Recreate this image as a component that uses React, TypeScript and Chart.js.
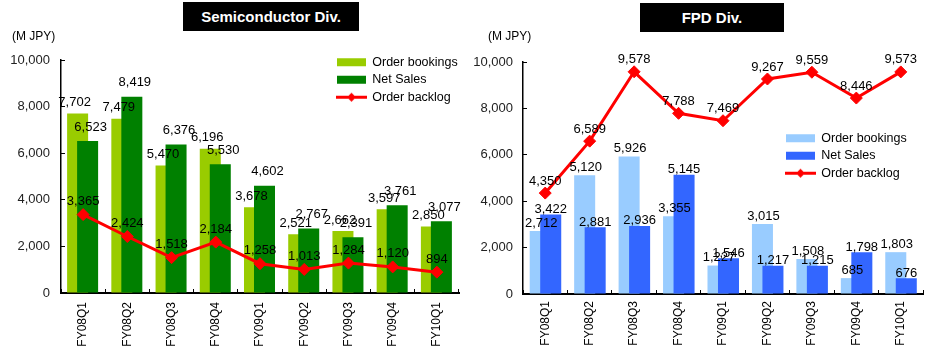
import React, { useEffect, useRef } from 'react';
import { Chart, registerables } from 'chart.js';

Chart.register(...registerables);

// ---------- data ----------
const quarters = ['FY08Q1', 'FY08Q2', 'FY08Q3', 'FY08Q4', 'FY09Q1', 'FY09Q2', 'FY09Q3', 'FY09Q4', 'FY10Q1'];

const semiOrderBookings = [7702, 7479, 5470, 6196, 3678, 2521, 2662, 3597, 2850];
const semiNetSales = [6523, 8419, 6376, 5530, 4602, 2767, 2391, 3761, 3077];
const semiOrderBacklog = [3365, 2424, 1518, 2184, 1258, 1013, 1284, 1120, 894];

const fpdOrderBookings = [2712, 5120, 5926, 3355, 1227, 3015, 1508, 685, 1803];
const fpdNetSales = [3422, 2881, 2936, 5145, 1546, 1217, 1215, 1798, 676];
const fpdOrderBacklog = [4350, 6589, 9578, 7788, 7469, 9267, 9559, 8446, 9573];

const seriesNames = ['Order bookings', 'Net Sales', 'Order backlog'];
const yMin = 0;
const yMax = 10000;
const yStep = 2000;

// ---------- style ----------
const FONT = '"Liberation Sans", Arial, sans-serif';
const RED = '#FF0000';

const fmt = (v: number) => v.toLocaleString('en-US');

function makeLineMarker(): HTMLCanvasElement {
  const c = document.createElement('canvas');
  c.width = 31;
  c.height = 11;
  const g = c.getContext('2d')!;
  g.strokeStyle = RED;
  g.lineWidth = 3;
  g.beginPath();
  g.moveTo(0, 5.5);
  g.lineTo(31, 5.5);
  g.stroke();
  g.fillStyle = RED;
  g.beginPath();
  g.moveTo(15.5, 1);
  g.lineTo(20, 5.5);
  g.lineTo(15.5, 10);
  g.lineTo(11, 5.5);
  g.closePath();
  g.fill();
  return c;
}

const valueLabels = {
  id: 'valueLabels',
  afterDatasetsDraw(chart: any) {
    const ctx = chart.ctx;
    chart.data.datasets.forEach((ds: any, i: number) => {
      const off = ds.labelOffset;
      if (!off) return;
      const meta = chart.getDatasetMeta(i);
      meta.data.forEach((el: any, j: number) => {
        const v = ds.data[j];
        if (v == null) return;
        ctx.save();
        ctx.font = `13px ${FONT}`;
        ctx.fillStyle = '#000';
        ctx.textAlign = 'center';
        ctx.textBaseline = 'middle';
        ctx.fillText(fmt(v), el.x + off.dx, el.y + off.dy);
        ctx.restore();
      });
    });
  },
};

// places the legend inside the plot area and nudges the two hidden bar axes
const placement = {
  id: 'placement',
  afterLayout(chart: any, _args: any, opts: any) {
    const a = chart.scales.xa;
    const b = chart.scales.xb;
    if (a) {
      a.left -= opts.shiftA;
      a.right -= opts.shiftA;
      a.configure();
    }
    if (b) {
      b.left += opts.shiftB;
      b.right += opts.shiftB;
      b.configure();
    }
  },
  beforeDraw(chart: any, _args: any, opts: any) {
    const lg = chart.legend;
    if (!lg) return;
    const w = lg.width;
    const h = lg.height;
    lg.left = opts.x;
    lg.top = opts.y;
    lg.right = opts.x + w;
    lg.bottom = opts.y + h;
  },
};

interface Geom {
  width: number;
  height: number;
  yAxisWidth: number;
  top: number;
  xAxisHeight: number;
  right: number;
  xLabelPad: number;
  yLabelPad: number;
  legendX: number;
  legendY: number;
  shiftA: number;
  shiftB: number;
  barPct: number;
}

interface Props {
  bookings: number[];
  sales: number[];
  backlog: number[];
  light: string;
  dark: string;
  geom: Geom;
  offsets: { dx: number; dy: number }[];
}

function DivChart({ bookings, sales, backlog, light, dark, geom, offsets }: Props) {
  const ref = useRef<HTMLCanvasElement>(null);

  useEffect(() => {
    const barCommon = {
      type: 'bar',
      grouped: false,
      barPercentage: geom.barPct,
      categoryPercentage: 1,
      borderWidth: 0,
    };
    const lineMarker = makeLineMarker();
    const hiddenAxis = { type: 'category', offset: true, display: false, grid: { offset: true } };
    const chart = new Chart(ref.current!, {
      type: 'bar',
      data: {
        labels: quarters,
        datasets: [
          {
            ...barCommon,
            label: seriesNames[0],
            data: bookings,
            backgroundColor: light,
            xAxisID: 'xa',
            order: 2,
            labelOffset: offsets[0],
          },
          {
            ...barCommon,
            label: seriesNames[1],
            data: sales,
            backgroundColor: dark,
            xAxisID: 'xb',
            order: 1,
            labelOffset: offsets[1],
          },
          {
            type: 'line',
            label: seriesNames[2],
            data: backlog,
            borderColor: RED,
            backgroundColor: RED,
            borderWidth: 3,
            pointStyle: 'rectRot',
            pointRadius: 6,
            pointHoverRadius: 6,
            pointBackgroundColor: RED,
            pointBorderColor: RED,
            pointBorderWidth: 1,
            tension: 0,
            xAxisID: 'x',
            order: 0,
            labelOffset: offsets[2],
          },
        ] as any,
      },
      options: {
        responsive: false,
        maintainAspectRatio: false,
        animation: false,
        events: [],
        layout: { padding: { left: 0, top: geom.top, right: geom.right, bottom: 0 } },
        plugins: {
          tooltip: { enabled: false },
          title: { display: false },
          legend: {
            position: 'chartArea' as any,
            align: 'start',
            labels: {
              usePointStyle: true,
              pointStyleWidth: 29,
              boxHeight: 8,
              padding: 5,
              color: '#000',
              font: { family: FONT, size: 12.5 },
              sort: (a: any, b: any) => a.datasetIndex - b.datasetIndex,
              generateLabels: (ch: any) => {
                const items = (Chart.defaults.plugins.legend.labels as any).generateLabels(ch);
                return items.map((it: any) => {
                  const ds = ch.data.datasets[it.datasetIndex];
                  if (ds.type === 'line') {
                    it.pointStyle = lineMarker;
                  } else {
                    it.pointStyle = 'rect';
                    it.fillStyle = ds.backgroundColor;
                    it.lineWidth = 0;
                    it.strokeStyle = ds.backgroundColor;
                  }
                  return it;
                });
              },
            },
          } as any,
          placement: { x: geom.legendX, y: geom.legendY, shiftA: geom.shiftA, shiftB: geom.shiftB },
        } as any,
        scales: {
          x: {
            type: 'category',
            offset: true,
            grid: {
              offset: true,
              drawOnChartArea: false,
              drawTicks: true,
              tickLength: -4,
              color: '#000',
              lineWidth: 1,
            },
            border: { color: '#000', width: 2 },
            ticks: {
              minRotation: 90,
              maxRotation: 90,
              autoSkip: false,
              padding: geom.xLabelPad,
              color: '#000',
              font: { family: FONT, size: 12 },
            },
            afterFit: (s: any) => {
              s.height = geom.xAxisHeight;
            },
          },
          xa: hiddenAxis,
          xb: { ...hiddenAxis },
          y: {
            min: yMin,
            max: yMax,
            ticks: {
              stepSize: yStep,
              padding: geom.yLabelPad,
              color: '#222',
              font: { family: FONT, size: 13 },
              callback: (v: any) => fmt(Number(v)),
            },
            grid: {
              drawOnChartArea: false,
              drawTicks: true,
              tickLength: -4,
              color: '#000',
              lineWidth: 1,
            },
            border: { color: '#000', width: 1.5 },
            afterFit: (s: any) => {
              s.width = geom.yAxisWidth;
            },
          },
        } as any,
      },
      plugins: [valueLabels, placement],
    } as any);
    return () => chart.destroy();
  }, []);

  return (
    <canvas
      ref={ref}
      width={geom.width}
      height={geom.height}
      style={{ display: 'block', width: geom.width, height: geom.height }}
    />
  );
}

const titleStyle: React.CSSProperties = {
  position: 'absolute',
  background: '#000',
  color: '#fff',
  font: `bold 15px ${FONT}`,
  display: 'flex',
  alignItems: 'center',
  justifyContent: 'center',
  height: 29,
};

const unitStyle: React.CSSProperties = {
  position: 'absolute',
  font: `12px ${FONT}`,
  color: '#000',
  lineHeight: '14px',
};

export default function App() {
  return (
    <div
      style={{
        position: 'absolute',
        left: 0,
        top: 0,
        width: 946,
        height: 352,
        background: '#fff',
        overflow: 'hidden',
      }}
    >
      <div style={{ position: 'absolute', left: 0, top: 0 }}>
        <DivChart
          bookings={semiOrderBookings}
          sales={semiNetSales}
          backlog={semiOrderBacklog}
          light="#99CC00"
          dark="#008000"
          offsets={[
            { dx: -3, dy: -11 },
            { dx: 3, dy: -14 },
            { dx: 0, dy: -13 },
          ]}
          geom={{
            width: 470,
            height: 352,
            yAxisWidth: 61,
            top: 60,
            xAxisHeight: 59,
            right: 11,
            xLabelPad: 13,
            yLabelPad: 15,
            legendX: 332,
            legendY: 51,
            shiftA: 5.5,
            shiftB: 4.5,
            barPct: 0.475,
          }}
        />
      </div>
      <div style={{ position: 'absolute', left: 470, top: 0 }}>
        <DivChart
          bookings={fpdOrderBookings}
          sales={fpdNetSales}
          backlog={fpdOrderBacklog}
          light="#99CCFF"
          dark="#3366FF"
          offsets={[
            { dx: 1, dy: -8 },
            { dx: 0, dy: -5 },
            { dx: 0, dy: -12 },
          ]}
          geom={{
            width: 476,
            height: 352,
            yAxisWidth: 53,
            top: 62,
            xAxisHeight: 58,
            right: 23,
            xLabelPad: 11,
            yLabelPad: 14,
            legendX: 311,
            legendY: 127,
            shiftA: 5,
            shiftB: 5.5,
            barPct: 0.473,
          }}
        />
      </div>
      <div style={{ ...titleStyle, left: 183, top: 2, width: 176 }}>Semiconductor Div.</div>
      <div style={{ ...titleStyle, left: 640, top: 3, width: 144 }}>FPD Div.</div>
      <div style={{ ...unitStyle, left: 12, top: 29 }}>(M JPY)</div>
      <div style={{ ...unitStyle, left: 488, top: 29 }}>(M JPY)</div>
    </div>
  );
}
